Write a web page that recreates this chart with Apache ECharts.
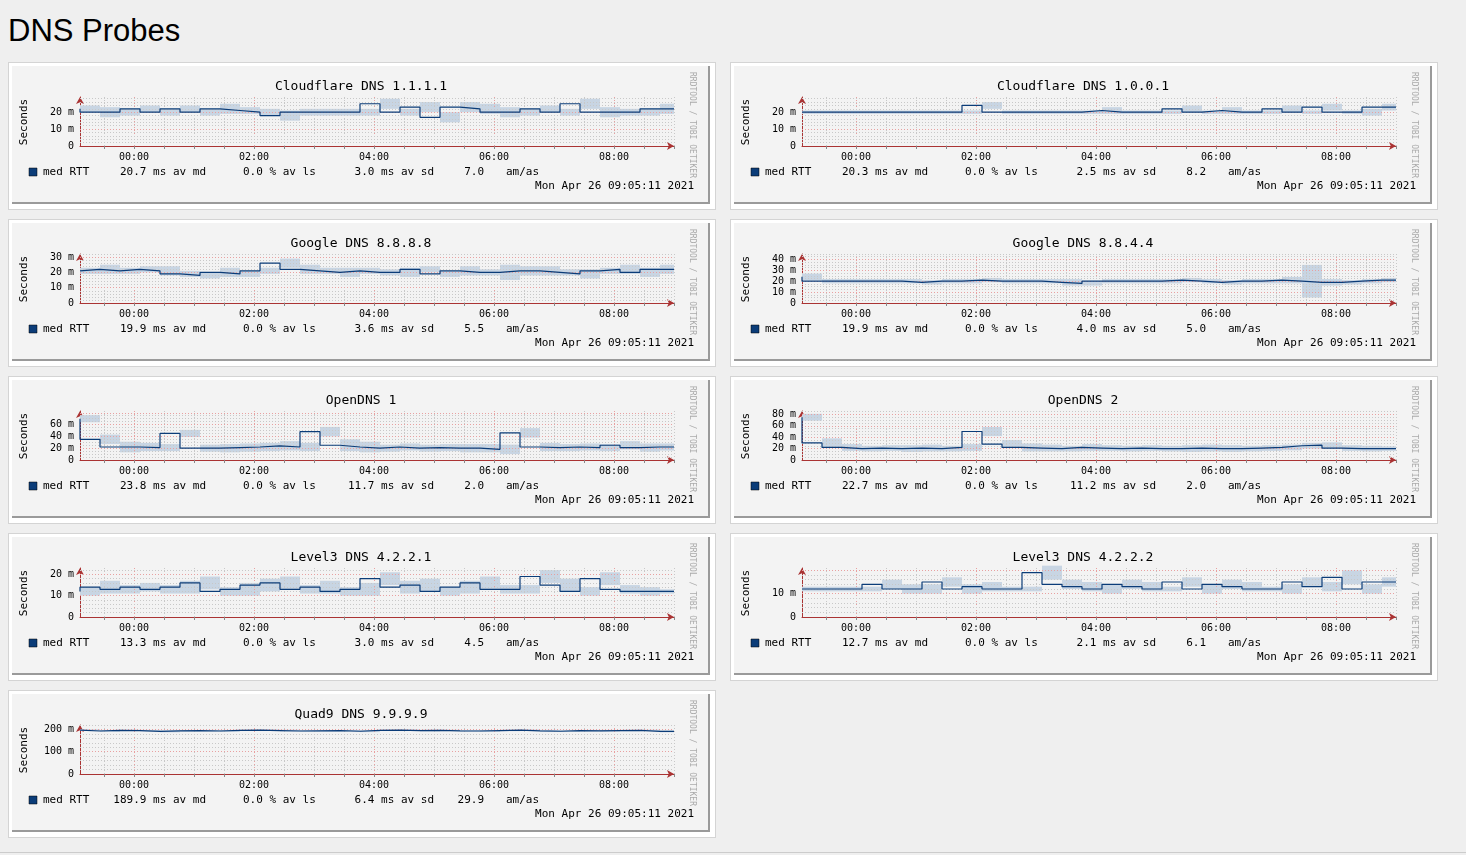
<!DOCTYPE html>
<html><head><meta charset="utf-8">
<script src="https://cdn.jsdelivr.net/npm/echarts@6/dist/echarts.min.js"></script>
<style>
body{margin:0;background:#efefef;width:1466px;height:855px;overflow:hidden;font-family:"Liberation Sans",Arial,sans-serif}
h1{position:absolute;left:8px;top:13px;margin:0;font-weight:normal;font-size:31px;color:#000}
.p{position:absolute;width:700px;height:140px;background:#fff;border:1px solid #d4d4d4;padding:3px}
.c{width:696px;height:136px;background:#f3f3f3;border-right:2px solid #9a9a9a;border-bottom:2px solid #9a9a9a}
#bl{position:absolute;left:0;top:852px;width:1466px;height:1px;background:#ccc}
</style></head><body>
<h1>DNS Probes</h1><div id="bl"></div>
<script>
const titles=["Cloudflare DNS 1.1.1.1","Cloudflare DNS 1.0.0.1","Google DNS 8.8.8.8","Google DNS 8.8.4.4","OpenDNS 1","OpenDNS 2","Level3 DNS 4.2.2.1","Level3 DNS 4.2.2.2","Quad9 DNS 9.9.9.9"];
const med1=[22,20,20,22,20,22,20,22,21,20,18,20,20,20,20,25,20,23,17,23,22,20,20,22,20,25,20,20,20,22];
const sp1=[2,3,2,2,2,2,2,3,2,2,3,2,2,2,2,3,2,3,3,3,3,3,2,2,2,3,3,2,2,3];
const med2=[20,20,20,20,20,20,20,20,20,24,20,20,20,20,20,21,20,20,20,22,20,21,20,20,22,20,23,20,20,23];
const sp2=[1,1,1,1,1,1,1,1,1,2,1,1,1,1,1,2,1,1,1,2,1,2,1,1,2,1,2,1,2,2];
const med3=[21,22,21,22,21,19,18,20,19,21,26,22,21,20,21,20,20,22,19,21,20,20,21,21,20,19,21,22,20,22];
const sp3=[2,3,2,2,3,2,2,3,2,2,3,3,2,3,2,2,3,2,2,3,2,5,3,3,2,3,2,3,3,3];
const med4=[24,20,20,20,20,20,19,20,20,21,20,20,20,19,18,20,20,20,20,21,20,19,20,20,21,20,19,19,20,21];
const sp4=[3,2,2,2,2,2,2,2,2,2,2,2,2,3,2,2,2,2,2,2,2,2,2,2,3,15,3,2,2,2];
const med5=[70,35,22,22,21,45,20,20,21,22,24,22,48,25,22,20,22,20,21,20,20,18,46,22,21,22,21,25,21,22];
const sp5=[6,8,9,7,6,6,6,7,7,7,8,7,8,10,9,6,6,6,6,7,7,8,8,7,6,6,6,7,7,6];
const med6=[75,30,22,20,21,20,21,20,22,50,28,22,21,20,22,21,20,21,20,20,21,20,20,21,22,25,26,21,20,20];
const sp6=[6,8,6,5,5,6,6,5,6,8,7,7,6,5,6,5,5,5,5,6,6,6,5,5,5,5,5,5,5,4];
const med7=[12,14,13,14,13,14,16,12,13,15,16,13,14,12,13,18,14,15,12,14,16,13,13,19,15,12,18,13,12,12];
const sp7=[2,3,2,2,2,3,3,2,3,3,3,2,3,2,3,3,3,3,2,3,3,2,2,3,3,2,3,2,2,1];
const med8=[12,12,12,12,14,12,12,15,12,13,12,12,19,14,13,12,14,13,12,15,12,14,13,12,12,15,13,17,12,15];
const sp8=[1,1,1,1,2,2,2,2,2,2,1,1,3,2,2,2,2,2,1,2,2,2,2,1,2,2,2,3,2,2];
const med9=[197,193,196,195,191,194,195,193,196,197,195,193,194,195,192,196,197,195,196,194,193,195,197,194,192,195,194,195,196,191];
const sp9=[4,4,3,3,4,3,3,4,3,3,4,3,3,3,4,3,3,4,3,3,4,3,3,4,3,3,4,3,3,4];
const yMax=[29,29,32,45,83,86,23,21,220];
const yLabels=[[0,10,20],[0,10,20],[0,10,20,30],[0,10,20,30,40],[0,20,40,60],[0,20,40,60,80],[0,10,20],[0,10],[0,100,200]];
const yMajor=[10,10,10,10,20,20,10,10,100];
const yMinor=[2,2,2,2.5,5,5,2,2,20];
const statMd=["20.7","20.3","19.9","19.9","23.8","22.7","13.3","12.7","189.9"];
const statLs=["0.0","0.0","0.0","0.0","0.0","0.0","0.0","0.0","0.0"];
const statSd=["3.0","2.5","3.6","4.0","11.7","11.2","3.0","2.1","6.4"];
const statAm=["7.0","8.2","5.5","5.0","2.0","2.0","4.5","6.1","29.9"];
const xLabels=[0,2,4,6,8];
const meds=[med1,med2,med3,med4,med5,med6,med7,med8,med9];
const sps=[sp1,sp2,sp3,sp4,sp5,sp6,sp7,sp8,sp9];
const pos=[[8,62],[730,62],[8,219],[730,219],[8,376],[730,376],[8,533],[730,533],[8,690]];
const X0=-0.9,X1=9.0;
const mono='"DejaVu Sans Mono",monospace';
pos.forEach((p,k)=>{
  const d=document.createElement('div');d.className='p';d.style.left=p[0]+'px';d.style.top=p[1]+'px';
  const c=document.createElement('div');c.className='c';d.appendChild(c);document.body.appendChild(d);
  const ch=echarts.init(c);
  const m=meds[k],s=sps[k];
  const tt=m.map((v,i)=>X0+i/3);
  const md=m.map((v,i)=>[tt[i],v]);md.push([X1,m[m.length-1]]);
  const band=m.map((v,i)=>[tt[i],i+1<m.length?tt[i+1]:X1,v-s[i],v+s[i]]);
  const vlines=[];for(let h=-0.5;h<=9.001;h+=0.5){vlines.push({xAxis:h,lineStyle:{color:Math.abs(h%2)<1e-6?'#e8a0a0':'#c8c8c8',type:[1,2],width:1}});}
  const hlines=[];for(let y=yMinor[k];y<=yMax[k]+1e-6;y+=yMinor[k]){const maj=Math.abs(y/yMajor[k]-Math.round(y/yMajor[k]))<1e-6;hlines.push({yAxis:y,lineStyle:{color:maj?'#e8a0a0':'#c8c8c8',type:[1,2],width:1}});}
  ch.setOption({animation:false,
    grid:{left:68,top:31,width:594,height:49},
    xAxis:{type:'value',min:X0,max:X1,splitLine:{show:false},
      axisLine:{onZero:false,lineStyle:{color:'#a33',width:1},symbol:['none','arrow'],symbolSize:[6,7]},
      axisTick:{customValues:[-0.5,0,0.5,1,1.5,2,2.5,3,3.5,4,4.5,5,5.5,6,6.5,7,7.5,8,8.5,9],length:3,lineStyle:{color:'#888'}},
      axisLabel:{customValues:xLabels,formatter:v=>String(v).padStart(2,'0')+':00',fontFamily:mono,fontSize:10,color:'#000',margin:6}},
    yAxis:{type:'value',min:0,max:yMax[k],splitLine:{show:false},
      axisLine:{show:true,onZero:false,lineStyle:{color:'#a33',width:1},symbol:['none','arrow'],symbolSize:[6,7]},
      axisTick:{show:false},
      axisLabel:{customValues:yLabels[k],formatter:v=>v===0?'0':v+' m',fontFamily:mono,fontSize:10,color:'#000',margin:6}},
    graphic:[
      {type:'text',x:349,y:14,style:{text:titles[k],font:'13px '+mono,fill:'#000',align:'center'}},
      {type:'text',x:12,y:56,rotation:Math.PI/2,style:{text:'Seconds',font:'11px '+mono,fill:'#000',align:'center',verticalAlign:'middle'}},
      {type:'text',x:684,y:6,rotation:-Math.PI/2,style:{text:'RRDTOOL / TOBI OETIKER',font:'8px '+mono,fill:'#aaa'}},
      {type:'rect',shape:{x:17,y:102,width:8,height:8},style:{fill:'#0b3c78',stroke:'#000',lineWidth:0.5}},
      {type:'text',x:31,y:101,style:{text:'med RTT',font:'11px '+mono,fill:'#000'}},
      {type:'text',x:194,y:101,style:{text:statMd[k]+' ms av md',font:'11px '+mono,fill:'#000',align:'right'}},
      {type:'text',x:231,y:101,style:{text:statLs[k]+' % av ls',font:'11px '+mono,fill:'#000'}},
      {type:'text',x:422,y:101,style:{text:statSd[k]+' ms av sd',font:'11px '+mono,fill:'#000',align:'right'}},
      {type:'text',x:472,y:101,style:{text:statAm[k],font:'11px '+mono,fill:'#000',align:'right'}},
      {type:'text',x:494,y:101,style:{text:'am/as',font:'11px '+mono,fill:'#000'}},
      {type:'text',x:682,y:115,style:{text:'Mon Apr 26 09:05:11 2021',font:'11px '+mono,fill:'#000',align:'right'}}
    ],
    series:[
      {type:'line',data:[],silent:true,markLine:{silent:true,symbol:'none',label:{show:false},data:vlines.concat(hlines)}},
      {type:'custom',data:band,silent:true,z:3,encode:{x:[0,1],y:[2,3]},
        renderItem:(params,api)=>{const a=api.coord([api.value(0),api.value(3)]),b=api.coord([api.value(1),api.value(2)]);
          return {type:'rect',shape:{x:a[0],y:a[1],width:b[0]-a[0],height:b[1]-a[1]},style:{fill:'#c8d5e3'}};}},
      {type:'line',step:'start',data:md,symbol:'none',lineStyle:{color:'#0b3c78',width:1.2},z:5}
    ]});
});
</script></body></html>
